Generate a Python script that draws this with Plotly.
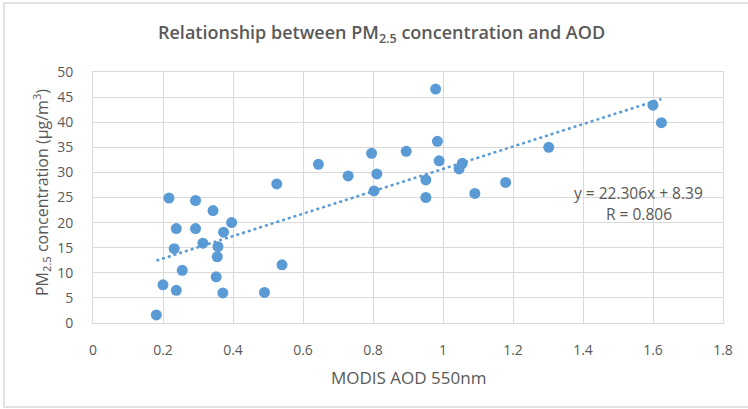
import plotly.graph_objects as go

aod = [0.181, 0.200, 0.238, 0.255, 0.232, 0.238, 0.217, 0.293, 0.293, 0.314,
       0.343, 0.373, 0.396, 0.357, 0.355, 0.352, 0.371, 0.490, 0.540, 0.525,
       0.644, 0.729, 0.796, 0.811, 0.803, 0.979, 0.984, 0.895, 0.989, 0.951,
       0.951, 1.046, 1.055, 1.091, 1.179, 1.302, 1.600, 1.624]
pm25 = [1.6, 7.6, 6.5, 10.5, 14.8, 18.8, 24.9, 24.4, 18.8, 15.9,
        22.4, 18.1, 20.0, 15.2, 13.2, 9.2, 6.0, 6.1, 11.6, 27.7,
        31.6, 29.3, 33.8, 29.7, 26.3, 46.6, 36.2, 34.2, 32.3, 28.5,
        25.0, 30.7, 31.8, 25.8, 28.0, 35.0, 43.4, 39.9]

slope = 22.306
intercept = 8.39
r_value = 0.806
x_ticks = [0, 0.2, 0.4, 0.6, 0.8, 1.0, 1.2, 1.4, 1.6, 1.8]
x_tick_labels = ["0", "0.2", "0.4", "0.6", "0.8", "1", "1.2", "1.4", "1.6", "1.8"]
y_ticks = [0, 5, 10, 15, 20, 25, 30, 35, 40, 45, 50]

BLUE = "#5B9BD5"
TXT = "#595959"
FONT = "Open Sans"

x_fit = [min(aod), max(aod)]
y_fit = [slope * v + intercept for v in x_fit]

fig = go.Figure()
fig.add_trace(go.Scatter(x=x_fit, y=y_fit, mode="lines",
                         line=dict(color=BLUE, width=2.5, dash="dot"),
                         hoverinfo="skip", showlegend=False))
fig.add_trace(go.Scatter(x=aod, y=pm25, mode="markers",
                         marker=dict(color=BLUE, size=11, line=dict(width=0)),
                         showlegend=False))

W, H = 748, 409
L, R, T, B = 93, 25, 72, 86
pw, ph = W - L - R, H - T - B

fig.update_layout(
    width=W, height=H,
    margin=dict(l=L, r=R, t=T, b=B),
    paper_bgcolor="white", plot_bgcolor="white",
    font=dict(family=FONT, color=TXT, size=14),
    xaxis=dict(range=[0, 1.8], tickvals=x_ticks, ticktext=x_tick_labels,
               showgrid=True, gridcolor="#D9D9D9", gridwidth=1,
               showline=True, linecolor="#D9D9D9", mirror=True,
               zeroline=False, ticks="", ticklabelstandoff=14,
               tickfont=dict(size=14, color=TXT, family=FONT)),
    yaxis=dict(range=[0, 50], tickvals=y_ticks,
               showgrid=True, gridcolor="#D9D9D9", gridwidth=1,
               showline=True, linecolor="#D9D9D9", mirror=True,
               zeroline=False, ticks="", ticklabelstandoff=16,
               tickfont=dict(size=14, color=TXT, family=FONT)),
    shapes=[dict(type="rect", xref="paper", yref="paper",
                 x0=(4 - L) / pw, x1=(W + 5 - L) / pw,
                 y0=(H - B - 407) / ph, y1=(H - B - 3) / ph,
                 line=dict(color="#D9D9D9", width=1.5), fillcolor="rgba(0,0,0,0)",
                 layer="below")],
    annotations=[
        dict(text="Relationship between PM<sub>2.5</sub> concentration and AOD",
             xref="paper", yref="paper", x=(381 - L) / pw, y=(H - B - 34) / ph,
             xanchor="center", yanchor="middle", showarrow=False,
             font=dict(size=18, color=TXT, family=FONT, weight=600)),
        dict(text="MODIS AOD 550nm", xref="paper", yref="paper",
             x=0.5, y=(H - B - 377) / ph, xanchor="center", yanchor="middle",
             showarrow=False, font=dict(size=17, color=TXT, family=FONT)),
        dict(text="PM<sub>2.5</sub> concentration (μg/m<sup>3</sup>)", xref="paper", yref="paper",
             x=(41 - L) / pw, y=(H - B - 193) / ph, xanchor="center", yanchor="middle",
             textangle=-90, showarrow=False, font=dict(size=16, color=TXT, family=FONT)),
        dict(text=f"y = {slope}x + {intercept}", x=(638.5 - L) / 350, y=(H - B - 193.3) / (ph / 50),
             xref="x", yref="y",
             xanchor="center", yanchor="middle", showarrow=False,
             font=dict(size=15.5, color=TXT, family=FONT)),
        dict(text=f"R = {r_value}", x=(639 - L) / 350, y=(H - B - 214.3) / (ph / 50),
             xref="x", yref="y",
             xanchor="center", yanchor="middle", showarrow=False,
             font=dict(size=15.5, color=TXT, family=FONT)),
    ],
)

fig.write_html("out.html", config={"displayModeBar": False},
               post_script="document.body.style.margin='0px';")
